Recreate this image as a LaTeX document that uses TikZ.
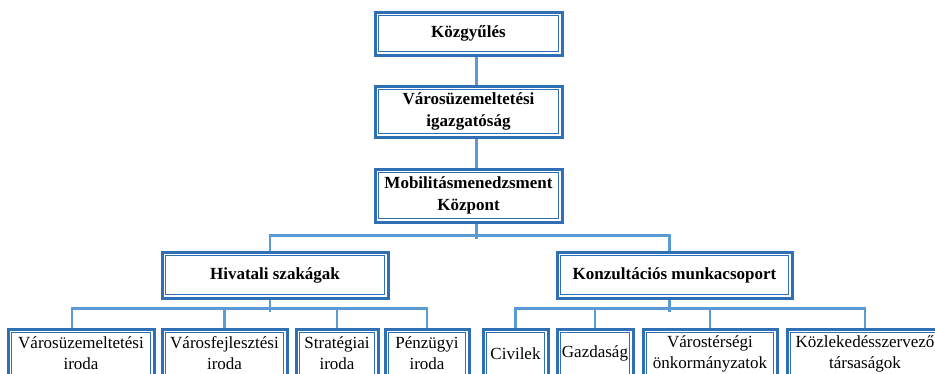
\documentclass[tikz,border=0pt]{standalone}
\usepackage{fontspec}
\setmainfont{Liberation Serif}
\usetikzlibrary{calc}
\definecolor{boxblue}{HTML}{2E6FB5}
\definecolor{lineblue}{HTML}{5B9BD5}
\begin{document}
\begin{tikzpicture}[x=1pt,y=-1pt,
  orgbox/.style={draw=boxblue, line width=3pt, fill=white, inner sep=0pt, align=center,
    path picture={\draw[boxblue, line width=0.9pt]
      ([shift={(3.6pt,3.6pt)}]path picture bounding box.south west) rectangle
      ([shift={(-3.6pt,-3.6pt)}]path picture bounding box.north east);}},
  headbox/.style={orgbox, font=\fontsize{17}{22}\selectfont\bfseries},
  leafbox/.style={orgbox, font=\fontsize{17}{21}\selectfont, minimum height=49pt},
  conn/.style={draw=lineblue, line width=2.6pt, line join=miter}]
\useasboundingbox (0,0) rectangle (935,373);
\clip (0,0) rectangle (935,373);
\fill[white] (0,0) rectangle (935,373);

% top chain
\node[headbox, minimum width=187pt, minimum height=43pt] (k1) at (468.5,33.5) {Közgyűlés};
\node[headbox, minimum width=187pt, minimum height=51pt] (k2) at (468.5,111.5) {Városüzemeltetési\\igazgatóság};
\node[headbox, minimum width=187pt, minimum height=53pt] (k3) at (468.5,195.5) {Mobilitásmenedzsment\\Központ};

% second level
\node[headbox, minimum width=226pt, minimum height=46pt] (h) at (275,275) {Hivatali szakágak};
\node[headbox, minimum width=235pt, minimum height=46pt] (kz) at (674.5,275) {Konzultációs munkacsoport};

% leaves
\node[leafbox, minimum width=146pt] (c1) at (81,353.5) {Városüzemeltetési\\iroda};
\node[leafbox, minimum width=125pt] (c2) at (224.5,353.5) {Városfejlesztési\\iroda};
\node[leafbox, minimum width=82pt] (c3) at (337,353.5) {Stratégiai\\iroda};
\node[leafbox, minimum width=84pt] (c4) at (427,353.5) {Pénzügyi\\iroda};
\node[leafbox, minimum width=65pt] (c5) at (515.5,353.5) {Civilek};
\node[leafbox, minimum width=76pt] (c6) at (595,353.5) {Gazdaság};
\node[leafbox, minimum width=134pt] (c7) at (710,353.5) {Várostérségi\\önkormányzatok};
\node[leafbox, minimum width=156pt] (c8) at (865,353.5) {Közlekedésszervező\\társaságok};

% connectors
\draw[conn] ($(k1.south)+(8pt,0)$) -- ($(k2.north)+(8pt,0)$);
\draw[conn] ($(k2.south)+(8pt,0)$) -- ($(k3.north)+(8pt,0)$);
\draw[conn] ($(k3.south)+(8pt,0)$) -- ++(0,-15pt);
\draw[conn] ($(h.north)+(-5pt,0)$) -- ++(0,15pt) -| ($(kz.north)+(-5pt,0)$);

\draw[conn] ($(h.south)+(-5pt,0)$) -- ++(0,-12pt);
\draw[conn] ($(c1.north)+(-9pt,0)$) -- ++(0,19pt) -| (c4.north);
\draw[conn] (c2.north) -- ++(0,19pt);
\draw[conn] (c3.north) -- ++(0,19pt);

\draw[conn] ($(kz.south)+(-5pt,0)$) -- ++(0,-12pt);
\draw[conn] (c5.north) -- ++(0,19pt) -| (c8.north);
\draw[conn] (c6.north) -- ++(0,19pt);
\draw[conn] (c7.north) -- ++(0,19pt);
\end{tikzpicture}
\end{document}
